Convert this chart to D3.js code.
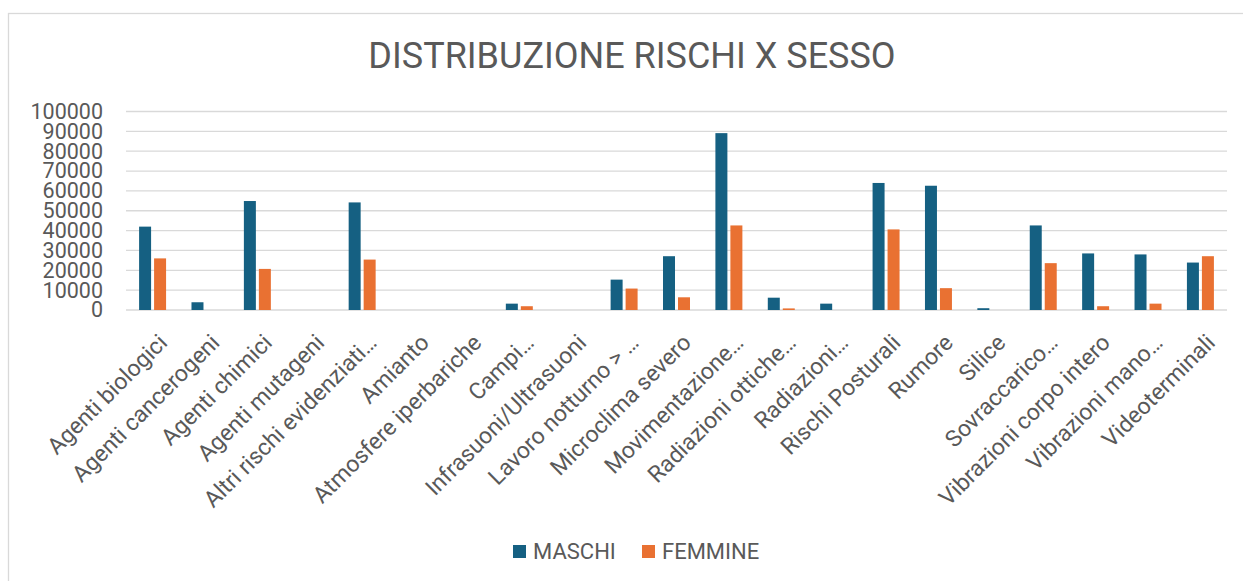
<!DOCTYPE html>
<html>
<head>
<meta charset="utf-8">
<script src="https://cdn.jsdelivr.net/npm/d3@7"></script>
<style>
  body { margin: 0; background: #fff; }
  text { font-family: Roboto, "Liberation Sans", sans-serif; fill: #595959; }
</style>
</head>
<body>
<div class="chart"></div>
<script>
// === Data ===
const categories = [
  "Agenti biologici", "Agenti cancerogeni", "Agenti chimici", "Agenti mutageni",
  "Altri rischi evidenziati…", "Amianto", "Atmosfere iperbariche", "Campi…",
  "Infrasuoni/Ultrasuoni", "Lavoro notturno > …", "Microclima severo",
  "Movimentazione…", "Radiazioni ottiche…", "Radiazioni…", "Rischi Posturali",
  "Rumore", "Silice", "Sovraccarico…", "Vibrazioni corpo intero",
  "Vibrazioni mano…", "Videoterminali"
];
const maschi = [42000, 3900, 54900, 0, 54200, 0, 0, 3200, 0, 15300, 27100,
                89100, 6200, 3200, 64000, 62600, 900, 42600, 28500, 28000, 23900];
const femmine = [26000, 0, 20700, 0, 25400, 0, 0, 1900, 0, 10800, 6400,
                 42600, 800, 0, 40600, 11000, 0, 23600, 1900, 3200, 27100];
const seriesNames = ["MASCHI", "FEMMINE"];
const seriesColors = ["#156082", "#e97132"];
const yTicks = [0, 10000, 20000, 30000, 40000, 50000, 60000, 70000, 80000, 90000, 100000];

const data = categories.map((c, i) => ({cat: c, values: [maschi[i], femmine[i]]}));

// === SVG ===
const W = 1243, H = 581;
const svg = d3.select(".chart").append("svg")
    .attr("width", W)
    .attr("height", H);

svg.append("rect")
    .attr("x", 8.5).attr("y", 13.5)
    .attr("width", W + 20).attr("height", H + 20)
    .attr("fill", "#fff")
    .attr("stroke", "#d9d9d9")
    .attr("stroke-width", 1.3);

// === Plot area ===
const plot = {left: 126, right: 1227, top: 111.5, bottom: 310};

const x0 = d3.scaleBand()
    .domain(categories)
    .range([plot.left, plot.right])
    .paddingInner(0.485)
    .paddingOuter(0.25);

const x1 = d3.scaleBand()
    .domain([0, 1])
    .range([0, x0.bandwidth()])
    .paddingInner(0.2);

const y = d3.scaleLinear()
    .domain([0, 100000])
    .range([plot.bottom, plot.top]);

// === Title ===
svg.append("text")
    .attr("x", 632)
    .attr("y", 68)
    .attr("text-anchor", "middle")
    .style("font-size", "36px")
    .text("DISTRIBUZIONE RISCHI X SESSO");

// === Gridlines ===
svg.append("g")
    .selectAll("line")
    .data(yTicks)
    .join("line")
    .attr("x1", plot.left)
    .attr("x2", plot.right)
    .attr("y1", d => y(d))
    .attr("y2", d => y(d))
    .attr("stroke", "#d9d9d9")
    .attr("stroke-width", 1.3);

// === Y axis ===
const yAxis = d3.axisLeft(y)
    .tickValues(yTicks)
    .tickFormat(d3.format("d"))
    .tickSize(0)
    .tickPadding(23);

svg.append("g")
    .attr("transform", `translate(${plot.left},0)`)
    .call(yAxis)
    .call(g => g.select(".domain").remove())
    .call(g => g.selectAll("text")
        .style("font-family", "Roboto, sans-serif")
        .style("font-size", "21.5px")
        .attr("fill", "#595959"));

// === Bars ===
const groups = svg.append("g")
    .selectAll("g")
    .data(data)
    .join("g")
    .attr("transform", d => `translate(${x0(d.cat)},0)`);

groups.selectAll("rect")
    .data(d => d.values.map((v, i) => ({v, i})))
    .join("rect")
    .attr("x", d => x1(d.i))
    .attr("width", x1.bandwidth())
    .attr("y", d => y(d.v))
    .attr("height", d => y(0) - y(d.v))
    .attr("fill", d => seriesColors[d.i]);

// === X axis labels ===
const xAxis = d3.axisBottom(x0).tickSize(0).tickPadding(0);

svg.append("g")
    .attr("transform", `translate(0,${plot.bottom})`)
    .call(xAxis)
    .call(g => g.select(".domain").remove())
    .call(g => g.selectAll("text")
        .style("font-family", "Roboto, sans-serif")
        .style("font-size", "23px")
        .attr("fill", "#595959")
        .attr("text-anchor", "end")
        .attr("dy", null)
        .attr("y", 0)
        .attr("transform", "translate(16,34) rotate(-45)"));

// === Legend ===
const legendX = [513, 642];
const legend = svg.append("g")
    .selectAll("g")
    .data(seriesNames)
    .join("g")
    .attr("transform", (d, i) => `translate(${legendX[i]},545)`);

legend.append("rect")
    .attr("width", 13)
    .attr("height", 13)
    .attr("fill", (d, i) => seriesColors[i]);

legend.append("text")
    .attr("x", 20)
    .attr("y", 13.5)
    .style("font-size", "22px")
    .text(d => d);
</script>
</body>
</html>
